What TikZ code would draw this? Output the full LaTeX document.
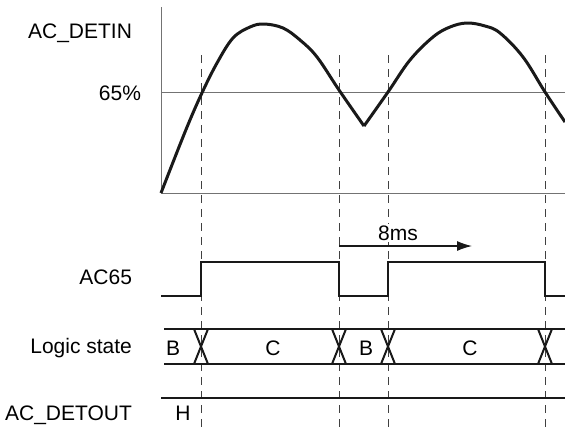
\documentclass[tikz,border=0pt]{standalone}
\usepackage{fontspec}
\setmainfont{Liberation Sans}
\usetikzlibrary{arrows.meta}
\begin{document}
\begin{tikzpicture}[x=0.5pt,y=-0.5pt,font=\fontsize{10.5}{12}\selectfont,>={Latex[length=7.5pt,width=5pt]},
  axis/.style={black!55,line width=0.5pt},
  wave/.style={black!90,line width=1.5pt,line join=round},
  sig/.style={black!90,line width=1pt},
  tick/.style={black!75,line width=0.5pt,dash pattern=on 4pt off 3pt}]
\useasboundingbox (0,0) rectangle (565,430);
% signal names
\node[anchor=east] (detin) at (139,33) {AC\_DETIN};
\node[anchor=east] (pct) at (148,93) {65\%};
\node[anchor=east] (ac) at (139,277) {AC65};
\node[anchor=east] (logic) at (139,348) {Logic state};
\node[anchor=east] (detout) at (139,415) {AC\_DETOUT};
% threshold crossings
\foreach \x in {201,339,388,545} \draw[tick] (\x,55)--(\x,430);
% AC_DETIN axes and waveform
\draw[axis] (161,7)--(161,193)--(565,193);
\draw[axis] (161,92)--(565,92);
\draw[wave] plot[smooth,tension=0.6] coordinates {(161,193) (185,132) (201,95) (217,63) (233,38) (250,27) (264,24) (283,28) (300,40) (317,57) (339,90) (364,126)};
\draw[wave] plot[smooth,tension=0.6] coordinates {(364,126) (388,92) (410,60) (433,37) (450,27) (467,23) (485,26) (500,33) (523,57) (545,92) (565,122)};
% 8ms window
\coordinate (wStart) at (339,246);
\coordinate (wEnd) at (472,246);
\node[fill=white,inner sep=1pt] (dur) at (398,233) {8ms};
\draw[->,black!90,line width=0.6pt] (wStart)--(wEnd);
% AC65
\draw[sig] (161,296)--(201,296)--(201,262)--(339,262)--(339,296)--(388,296)--(388,262)--(545,262)--(545,296)--(565,296);
% logic state bus
\draw[sig] (164,329)--(565,329) (164,364)--(565,364);
\foreach \x in {201,339,388,545}{\draw[sig] (\x-7,329)--(\x+7,364); \draw[sig] (\x-7,364)--(\x+7,329);}
\node (s1) at (173,348) {B};
\node (s2) at (273,348) {C};
\node (s3) at (366,348) {B};
\node (s4) at (470,348) {C};
\node (s5) at (571,348) {B};
% AC_DETOUT
\draw[black!90,line width=0.8pt] (161,398)--(565,398);
\node (lvl) at (183,413) {H};
\end{tikzpicture}
\end{document}
